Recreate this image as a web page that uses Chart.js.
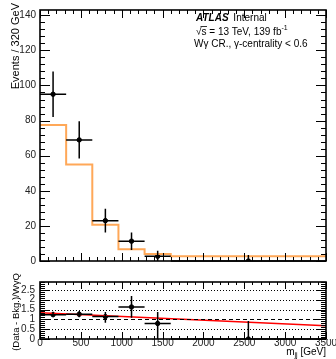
<!DOCTYPE html>
<html>
<head>
<meta charset="utf-8">
<title>m_jj Wgamma CR</title>
<script src="https://cdn.jsdelivr.net/npm/chart.js@4.4.0/dist/chart.umd.min.js"></script>
<style>
  body { margin: 0; background: #fff; }
  #wrap { position: relative; width: 336px; height: 359px; background: #fff; }
  #wrap canvas { position: absolute; left: 0; }
</style>
</head>
<body>
<div id="wrap">
  <canvas id="main" width="336" height="271" style="top:0"></canvas>
  <canvas id="ratio" width="336" height="88" style="top:271px"></canvas>
</div>
<script>
// bins in m_jj [GeV]
var binEdges = [0, 320, 640, 960, 1280, 1600, 3500];
var binCenters = [160, 480, 800, 1120, 1440, 2550];

// upper panel: data (events / 320 GeV) and the W gamma QCD template
var dataEvents = [95, 69, 23, 11.3, 2.7, 0];
var dataErrUp = [13, 10.6, 6.8, 5, 3.1, 3.4];
var dataErrDown = [13, 10.6, 6.8, 5, 2.7, 0];
var wgqTemplate = [77.5, 55, 20.7, 6.7, 4.0, 2.7];

// lower panel: (Data - Bkg.)/WgQ and a linear fit
var ratioVals = [1.24, 1.26, 1.14, 1.63, 0.79, 0];
var ratioErrUp = [0.15, 0.16, 0.23, 0.56, 0.59, 0.91];
var ratioErrDown = [0.13, 0.15, 0.31, 0.55, 0.79, 0];
var fitX = [0, 3500];
var fitY = [1.34, 0.68];

var mainTicks = [0, 20, 40, 60, 80, 100, 120, 140];
var ratioTicks = [0, 0.5, 1, 1.5, 2, 2.5];
var massTicks = [0, 500, 1000, 1500, 2000, 2500, 3000, 3500];
var ratioGrid = [0.5, 1.5, 2, 2.5];
var ratioRef = 1;

var FONT = '"Liberation Sans", Arial, Helvetica, sans-serif';
var ORANGE = 'rgb(255,168,88)';

function fixTicks(list) {
  return function (scale) { scale.ticks = list.map(function (v) { return { value: v }; }); };
}
function plain(v) { return String(v); }

// frame + inward ROOT style ticks
var framePlugin = {
  id: 'frame',
  afterDatasetsDraw: function (chart, args, o) {
    var ctx = chart.ctx, a = chart.chartArea;
    var xs = chart.scales.x, ys = chart.scales.y;
    ctx.save();
    ctx.strokeStyle = '#000';
    ctx.lineWidth = 1;
    var v, p, big;
    for (v = xs.min; v <= xs.max + 1e-9; v += o.xMinor) {
      p = Math.round(xs.getPixelForValue(v)) + 0.5;
      big = Math.abs(v / o.xMajor - Math.round(v / o.xMajor)) < 1e-6;
      var l = big ? o.xMajLen : o.xMinLen;
      ctx.beginPath();
      ctx.moveTo(p, a.bottom); ctx.lineTo(p, a.bottom - l);
      ctx.moveTo(p, a.top); ctx.lineTo(p, a.top + l);
      ctx.stroke();
    }
    for (v = ys.min; v <= ys.max + 1e-9; v += o.yMinor) {
      p = Math.round(ys.getPixelForValue(v)) + 0.5;
      big = Math.abs(v / o.yMajor - Math.round(v / o.yMajor)) < 1e-6;
      var m = big ? o.yMajLen : o.yMinLen;
      ctx.beginPath();
      ctx.moveTo(a.left, p); ctx.lineTo(a.left + m, p);
      ctx.moveTo(a.right, p); ctx.lineTo(a.right - m, p);
      ctx.stroke();
    }
    ctx.lineWidth = 1.6;
    ctx.strokeRect(a.left, a.top, a.right - a.left, a.bottom - a.top);
    ctx.restore();
  }
};

// error bars for the data points
var errPlugin = {
  id: 'errbars',
  afterDatasetsDraw: function (chart, args, o) {
    var ctx = chart.ctx, xs = chart.scales.x, ys = chart.scales.y;
    ctx.save();
    ctx.strokeStyle = '#000';
    ctx.lineWidth = 1.5;
    for (var i = 0; i < o.vals.length; i++) {
      var px = xs.getPixelForValue(binCenters[i]);
      var py = ys.getPixelForValue(o.vals[i]);
      ctx.beginPath();
      ctx.moveTo(xs.getPixelForValue(binEdges[i]), py);
      ctx.lineTo(xs.getPixelForValue(binEdges[i + 1]), py);
      ctx.moveTo(px, ys.getPixelForValue(o.vals[i] + o.up[i]));
      ctx.lineTo(px, ys.getPixelForValue(o.vals[i] - o.down[i]));
      ctx.stroke();
    }
    ctx.restore();
  }
};

var textPlugin = {
  id: 'texts',
  afterDraw: function (chart, args, o) {
    var ctx = chart.ctx;
    ctx.save();
    ctx.fillStyle = '#000';
    ctx.textBaseline = 'alphabetic';
    o.draw(ctx, chart);
    ctx.restore();
  }
};

var templateLine = binEdges.map(function (e, i) {
  return { x: e, y: wgqTemplate[Math.min(i, wgqTemplate.length - 1)] };
});

new Chart(document.getElementById('main'), {
  type: 'scatter',
  data: {
    datasets: [{
      type: 'line',
      data: templateLine,
      stepped: 'before',
      borderColor: ORANGE,
      borderWidth: 2,
      pointRadius: 0,
      fill: false
    }, {
      data: binCenters.map(function (c, i) { return { x: c, y: dataEvents[i] }; }),
      backgroundColor: '#000',
      borderColor: '#000',
      pointRadius: 2.2
    }]
  },
  options: {
    responsive: false,
    animation: false,
    devicePixelRatio: 1,
    layout: { padding: { left: 0, right: 10, top: 7, bottom: 2 } },
    plugins: {
      legend: { display: false },
      tooltip: { enabled: false },
      frame: { xMinor: 100, xMajor: 500, xMajLen: 8, xMinLen: 4, yMinor: 4, yMajor: 20, yMajLen: 10, yMinLen: 5 },
      errbars: { vals: dataEvents, up: dataErrUp, down: dataErrDown },
      texts: {
        draw: function (ctx, chart) {
          ctx.font = 'italic bold 10px ' + FONT;
          ctx.fillText('ATLAS', 196, 21);
          var w = ctx.measureText('ATLAS ').width;
          ctx.font = '10px ' + FONT;
          ctx.fillText('Internal', 196 + w + 2, 21);
          // sqrt(s) line
          ctx.fillText('\u221As', 196, 35);
          var rw = ctx.measureText('\u221A').width;
          var sw = ctx.measureText('s').width;
          ctx.fillRect(196 + rw - 1, 26, sw + 1.5, 0.8);
          var t = ' = 13 TeV, 139 fb';
          var x0 = 196 + rw + sw;
          ctx.fillText(t, x0, 35);
          var tw = ctx.measureText(t).width;
          ctx.font = '7px ' + FONT;
          ctx.fillText('-1', x0 + tw, 30);
          ctx.font = '10px ' + FONT;
          ctx.fillText('W\u03B3 CR., \u03B3-centrality < 0.6', 194, 47);
          // y title
          ctx.save();
          ctx.translate(19, 3);
          ctx.rotate(-Math.PI / 2);
          ctx.textAlign = 'right';
          ctx.font = '11px ' + FONT;
          ctx.fillText('Events / 320 GeV', 0, 0);
          ctx.restore();
        }
      }
    },
    scales: {
      x: { type: 'linear', display: false, min: 0, max: 3500 },
      y: {
        type: 'linear', min: 0, max: 143,
        afterBuildTicks: fixTicks(mainTicks),
        afterFit: function (s) { s.width = 40; },
        grid: { display: false, drawTicks: false },
        border: { display: false },
        ticks: { padding: 4, autoSkip: false, callback: plain, color: '#222', font: { family: FONT, size: 10 } }
      }
    }
  },
  plugins: [framePlugin, errPlugin, textPlugin]
});

new Chart(document.getElementById('ratio'), {
  type: 'scatter',
  data: {
    datasets: [{
      type: 'line',
      data: fitX.map(function (x, i) { return { x: x, y: fitY[i] }; }),
      borderColor: 'rgb(255,0,0)',
      borderWidth: 1.5,
      pointRadius: 0,
      fill: false
    }, {
      data: binCenters.map(function (c, i) { return { x: c, y: ratioVals[i] }; }),
      backgroundColor: '#000',
      borderColor: '#000',
      pointRadius: 2.2
    }]
  },
  options: {
    responsive: false,
    animation: false,
    devicePixelRatio: 1,
    layout: { padding: { left: 0, right: 10, top: 5, bottom: 0 } },
    plugins: {
      legend: { display: false },
      tooltip: { enabled: false },
      frame: { xMinor: 100, xMajor: 500, xMajLen: 7, xMinLen: 3, yMinor: 0.1, yMajor: 0.5, yMajLen: 10, yMinLen: 5 },
      errbars: { vals: ratioVals, up: ratioErrUp, down: ratioErrDown },
      texts: {
        draw: function (ctx, chart) {
          var ys = chart.scales.y, a = chart.chartArea;
          ctx.save();
          ctx.strokeStyle = '#000';
          ctx.lineWidth = 1;
          ctx.setLineDash([1, 2]);
          ratioGrid.forEach(function (v) {
            var p = Math.round(ys.getPixelForValue(v)) + 0.5;
            ctx.beginPath(); ctx.moveTo(a.left, p); ctx.lineTo(a.right, p); ctx.stroke();
          });
          ctx.setLineDash([4, 3]);
          var q = Math.round(ys.getPixelForValue(ratioRef)) + 0.5;
          ctx.beginPath(); ctx.moveTo(a.left, q); ctx.lineTo(a.right, q); ctx.stroke();
          ctx.restore();
          ctx.font = '10px ' + FONT;
          ctx.textAlign = 'right';
          var gw = ctx.measureText(' [GeV]').width;
          ctx.fillText(' [GeV]', 326, 84);
          ctx.font = '7px ' + FONT;
          var jw = ctx.measureText('jj').width;
          ctx.fillText('jj', 326 - gw, 86);
          ctx.font = '10px ' + FONT;
          ctx.fillText('m', 326 - gw - jw, 84);
          ctx.save();
          ctx.translate(16, 41);
          ctx.rotate(-Math.PI / 2);
          ctx.textAlign = 'center';
          ctx.font = '9.5px ' + FONT;
          ctx.fillText('(Data - Bkg.)/W\u03B3Q', 0, 3);
          ctx.restore();
        }
      }
    },
    scales: {
      x: {
        type: 'linear', min: 0, max: 3500,
        afterBuildTicks: fixTicks(massTicks),
        afterFit: function (s) { s.height = 20; },
        grid: { display: false, drawTicks: false },
        border: { display: false },
        ticks: { padding: -2, autoSkip: false, maxRotation: 0, callback: plain, color: '#222', font: { family: FONT, size: 10 } }
      },
      y: {
        type: 'linear', min: 0, max: 2.9,
        afterBuildTicks: fixTicks(ratioTicks),
        afterFit: function (s) { s.width = 40; },
        grid: { display: false, drawTicks: false },
        border: { display: false },
        ticks: { padding: 5, autoSkip: false, callback: plain, color: '#222', font: { family: FONT, size: 10 } }
      }
    }
  },
  plugins: [framePlugin, errPlugin, textPlugin]
});
</script>
</body>
</html>
